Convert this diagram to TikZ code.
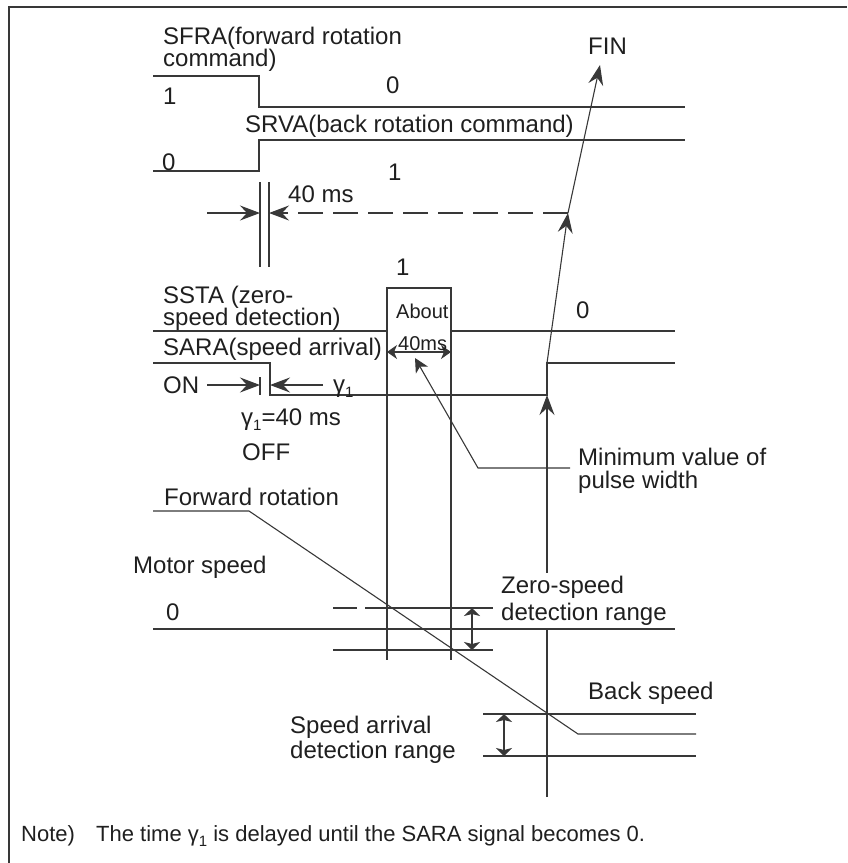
\documentclass[tikz,border=0pt]{standalone}
\usepackage{fontspec}
\setmainfont{Liberation Sans}
\usetikzlibrary{arrows.meta}
\definecolor{linecol}{gray}{0.22}
\definecolor{txtcol}{gray}{0.12}
\newcommand{\gamone}{γ\raisebox{-5pt}{\fontsize{15}{15}\selectfont 1}}
\begin{document}
\begin{tikzpicture}[x=1pt,y=-1pt,
  wave/.style={draw=linecol,line width=1.4pt},
  thin/.style={draw=linecol,line width=1.1pt},
  bigarr/.style={-{Stealth[length=20pt,width=15pt,inset=7pt]}},
  midarr/.style={-{Stealth[length=14pt,width=14pt,inset=4pt]}},
  pulsearr/.style={{Stealth[length=10pt,width=14pt,inset=3pt]}-{Stealth[length=10pt,width=14pt,inset=3pt]}},
  rangearr/.style={{Stealth[length=8pt,width=16pt,inset=2pt]}-{Stealth[length=8pt,width=16pt,inset=2pt]}},
  lbl/.style={anchor=base west,inner sep=0pt,text=txtcol,font=\fontsize{24}{28}\selectfont},
  notelbl/.style={anchor=base west,inner sep=0pt,text=txtcol,font=\fontsize{22}{26}\selectfont}]
\useasboundingbox (0,0) rectangle (847,863);

% frame
\coordinate (fr1) at (9,863);
\coordinate (fr2) at (9,7);
\coordinate (fr3) at (847,7);
\draw[draw=linecol,line width=2pt] (fr1) -- (fr2) -- (fr3);

% SFRA waveform
\draw[wave] (153,76) -- (259,76) -- (259,107) -- (685,107);
% SRVA waveform
\draw[wave] (153,171) -- (259,171) -- (259,140) -- (685,140);

% 40 ms markers
\coordinate (m1t) at (260,182); \coordinate (m1b) at (260,267);
\coordinate (m2t) at (269,182); \coordinate (m2b) at (269,267);
\draw[thin] (m1t) -- (m1b);
\draw[thin] (m2t) -- (m2b);
\coordinate (a40s) at (207,213);
\coordinate (a40e) at (260,213);
\coordinate (a40r) at (269,213);
\coordinate (J) at (568,213);
\draw[thin,bigarr] (a40s) -- (a40e);
\draw[thin,bigarr,dash pattern=on 25pt off 10pt] (J) -- (a40r);

% SSTA waveform
\draw[wave] (153,331) -- (387,331) -- (387,288) -- (451,288) -- (451,331) -- (675,331);
\draw[thin] (387,288) -- (387,660);
\draw[thin] (451,288) -- (451,660);
\coordinate (pl) at (387,352);
\coordinate (pr) at (451,352);
\draw[thin,pulsearr] (pl) -- (pr);

% SARA waveform
\draw[wave] (153,363) -- (270,363) -- (270,395) -- (547,395) -- (547,363) -- (675,363);
\draw[thin] (260,377) -- (260,395);
\coordinate (onS) at (207,385); \coordinate (onE) at (260,385);
\coordinate (gS) at (323,385); \coordinate (gE) at (270,385);
\draw[thin,bigarr] (onS) -- (onE);
\draw[thin,bigarr] (gS) -- (gE);

% FIN arrows
\coordinate (rise) at (547,363);
\coordinate (finT) at (600,65);
\draw[thin,bigarr] (rise) -- (J);
\draw[thin,bigarr] (J) -- (finT);

% long vertical with arrow
\coordinate (vb) at (547,797);
\coordinate (vt) at (547,395);
\draw[thin,bigarr] (vb) -- (vt);

% minimum value leader
\coordinate (mv1) at (570,468);
\coordinate (mv2) at (478,468);
\coordinate (mv3) at (415,358);
\draw[thin,midarr] (mv1) -- (mv2) -- (mv3);

% motor speed
\draw[thin] (153,511) -- (249,511) -- (578,734) -- (696,734);
\draw[thin] (153,629) -- (675,629);
\draw[thin] (333,608) -- (357,608);
\draw[thin] (365,608) -- (493,608);
\draw[thin] (333,650) -- (493,650);
\coordinate (zr1) at (472,608); \coordinate (zr2) at (472,650);
\draw[thin,rangearr] (zr1) -- (zr2);
\draw[thin] (483,714) -- (696,714);
\draw[thin] (483,756) -- (696,756);
\coordinate (sr1) at (504,714); \coordinate (sr2) at (504,756);
\draw[thin,rangearr] (sr1) -- (sr2);

% labels
\node[lbl] (t1) at (163,44) {SFRA(forward rotation};
\node[lbl] (t2) at (163,66) {command)};
\node[lbl] (t3) at (163,104) {1};
\node[lbl] (t4) at (386,93) {0};
\node[lbl] (t5) at (245,132) {SRVA(back rotation command)};
\node[lbl] (t6) at (162,170) {0};
\node[lbl] (t7) at (388,180) {1};
\node[lbl] (t8) at (288,202) {40 ms};
\node[lbl] (t9) at (588,54) {FIN};
\node[lbl] (t10) at (396,275) {1};
\node[lbl] (t11) at (163,303) {SSTA (zero-};
\node[lbl] (t12) at (163,325) {speed detection)};
\node[lbl,font=\fontsize{20}{24}\selectfont] (t13) at (396,318) {About};
\node[lbl,font=\fontsize{20}{24}\selectfont] (t14) at (398,350) {40ms};
\node[lbl] (t15) at (576,318) {0};
\node[lbl] (t16) at (163,355) {SARA(speed arrival)};
\node[lbl] (t17) at (163,393) {ON};
\node[lbl] (t18) at (333,392) {\gamone};
\node[lbl] (t19) at (241,425) {\gamone=40 ms};
\node[lbl] (t20) at (242,460) {OFF};
\node[lbl] (t21) at (578,465) {Minimum value of};
\node[lbl] (t22) at (578,488) {pulse width};
\node[lbl] (t23) at (164,505) {Forward rotation};
\node[lbl] (t24) at (133,573) {Motor speed};
\node[lbl] (t25) at (166,620) {0};
\node[lbl,fill=white,inner ysep=3pt] (t26) at (501,593) {Zero-speed};
\node[lbl,fill=white,inner ysep=3pt] (t27) at (501,620) {detection range};
\node[lbl] (t28) at (588,699) {Back speed};
\node[lbl] (t29) at (290,733) {Speed arrival};
\node[lbl] (t30) at (290,758) {detection range};
\node[notelbl] (n1) at (21,841) {Note)};
\node[notelbl] (n2) at (96,841) {The time \gamone\ is delayed until the SARA signal becomes 0.};
\end{tikzpicture}
\end{document}
